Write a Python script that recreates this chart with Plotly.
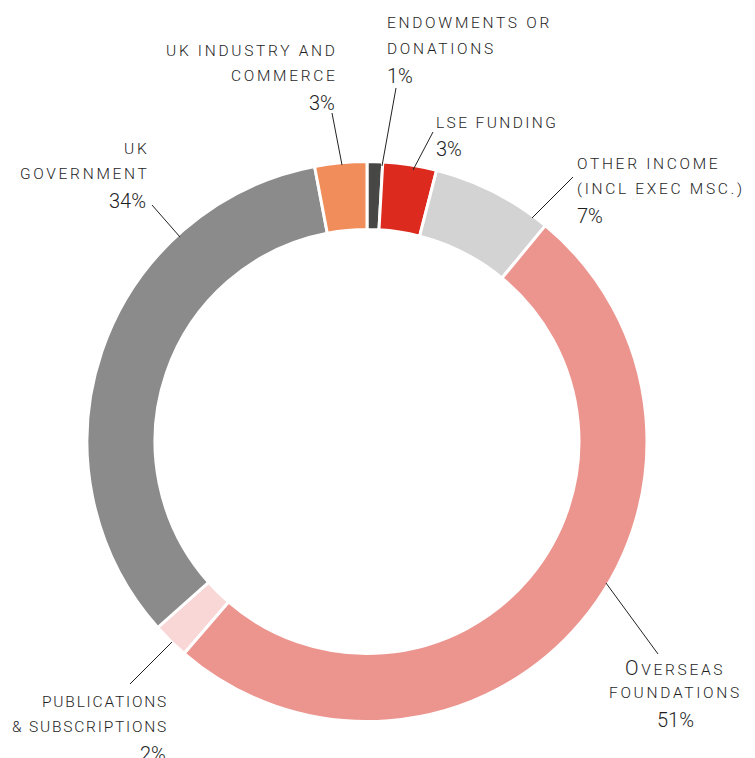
import plotly.graph_objects as go

W, H = 755, 758
OFF = 8  # page body margin offset

# ---- data ----
categories = ["Endowments or donations", "LSE funding", "Other income (incl Exec MSc.)",
              "Overseas foundations", "Publications & subscriptions", "UK government",
              "UK industry and commerce"]
values = [0.9, 3.1, 7.0, 50.4, 2.1, 33.6, 3.0]
pct_labels = ["1%", "3%", "7%", "51%", "2%", "34%", "3%"]
label_lines = [
    ["ENDOWMENTS OR", "DONATIONS"],
    ["LSE FUNDING"],
    ["OTHER INCOME", "(INCL EXEC MSC.)"],
    ["<span style='font-size:20px'>O</span>VERSEAS", "FOUNDATIONS"],
    ["PUBLICATIONS", "&amp; SUBSCRIPTIONS"],
    ["UK", "GOVERNMENT"],
    ["UK INDUSTRY AND", "COMMERCE"],
]
colors = ["#474745", "#dc2a1f", "#d3d3d3", "#ec948e", "#f9d7d6", "#8b8b8b", "#f18d5a"]

# ---- layout helpers (pixel positions in the page) ----
cx, cy, r = 367, 441.5, 280
label_pos = [  # x, y of first line cap-centre, anchor, letter spacing
    (385, 23.5, "left", 2.7),
    (434, 122.5, "left", 2.4),
    (575, 164, "left", 2.7),
    (675, 668, "center", 2.7),
    (168, 702, "right", 1.8),
    (148, 149, "right", 2.7),
    (337, 51, "right", 2.7),
]
leaders = [
    ((396, 88), (382, 166)),
    ((433, 132), (413, 170)),
    ((573, 177), (532, 218)),
    ((606, 583), (658, 654)),
    ((172, 642), (130, 684)),
    ((152, 205), (180, 237)),
    ((332, 113), (342, 165)),
]
LINE_GAP = 25.3


def px(x):
    return (x - OFF) / W


def py(y):
    return 1 - (y - OFF) / H


fig = go.Figure(go.Pie(
    labels=categories, values=values, sort=False, direction="clockwise", rotation=0,
    hole=212 / 280, marker=dict(colors=colors, line=dict(color="white", width=3)),
    textinfo="none", hoverinfo="label+percent",
    domain=dict(x=[px(cx - r), px(cx + r)], y=[py(cy + r), py(cy - r)]),
))

annotations = []
font_lbl = dict(family="Roboto", size=15.5, color="#1e1e1e", weight=300)
font_pct = dict(family="Roboto", size=20, color="#1e1e1e", weight=300)
for lines, pct, (x, y, anc, ls) in zip(label_lines, pct_labels, label_pos):
    allines = lines + [pct]
    for i, t in enumerate(allines):
        is_pct = i == len(allines) - 1
        txt = t if is_pct else f"<span style='letter-spacing:{ls}px'>{t}</span>"
        annotations.append(dict(
            x=px(x + (ls if anc == "right" and not is_pct else 0)),
            y=py(y + i * LINE_GAP + (1.5 if is_pct else 0)),
            xref="paper", yref="paper", text=txt, showarrow=False,
            xanchor=anc, yanchor="middle", font=font_pct if is_pct else font_lbl,
        ))

shapes = [dict(type="line", xref="paper", yref="paper",
               x0=px(a[0]), y0=py(a[1]), x1=px(b[0]), y1=py(b[1]),
               line=dict(color="#222222", width=1)) for a, b in leaders]

fig.update_layout(
    width=W, height=H, margin=dict(l=0, r=0, t=0, b=0),
    paper_bgcolor="white", plot_bgcolor="white", showlegend=False,
    annotations=annotations, shapes=shapes,
)
fig.write_html("out.html")
